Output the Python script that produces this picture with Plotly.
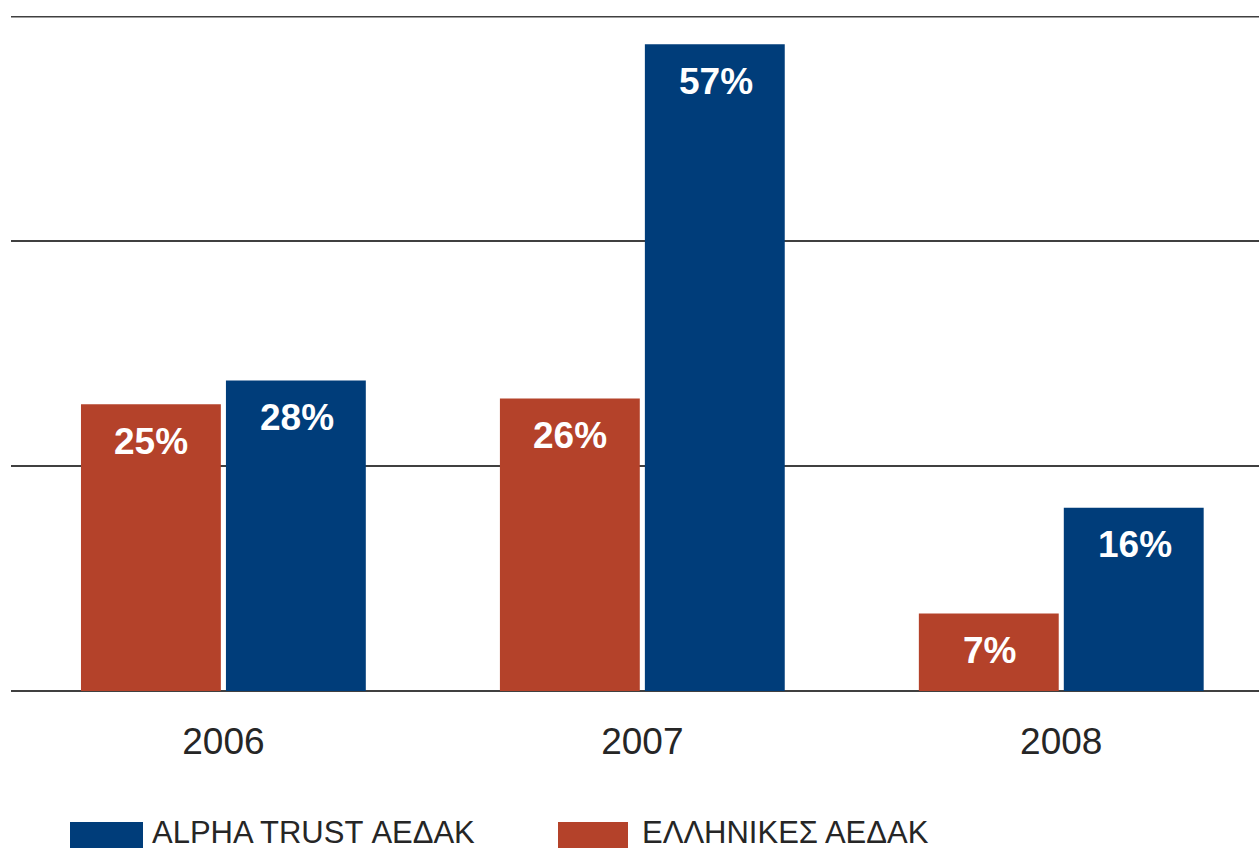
import plotly.graph_objects as go

years = ["2006", "2007", "2008"]
greek_funds = [25.5, 26.0, 6.9]          # ΕΛΛΗΝΙΚΕΣ ΑΕΔΑΚ
alpha_trust = [27.6, 57.5, 16.3]         # ALPHA TRUST ΑΕΔΑΚ
greek_labels = ["25%", "26%", "7%"]
alpha_labels = ["28%", "57%", "16%"]
y_ticks = [0, 20, 40, 60]

RED = "#B4422A"
BLUE = "#003D7A"
TXT = "#262626"
GRID = "#404040"

W, H = 1259, 850
L, R, T, B = 11, 0, 16, 159
pw, ph = W - L - R, H - T - B


def px_x(px):
    return (px - L) / pw


def px_y(py):
    return (H - B - py) / ph


fig = go.Figure()
fig.add_trace(go.Bar(x=years, y=greek_funds, name="ΕΛΛΗΝΙΚΕΣ ΑΕΔΑΚ",
                     marker=dict(color=RED, line=dict(width=0)), showlegend=False))
fig.add_trace(go.Bar(x=years, y=alpha_trust, name="ALPHA TRUST ΑΕΔΑΚ",
                     marker=dict(color=BLUE, line=dict(width=0)), showlegend=False))

label_font = dict(family="Liberation Sans, Arial", size=37, color="white", weight="bold")
annotations = []
for i, (v, lab) in enumerate(zip(greek_funds, greek_labels)):
    annotations.append(dict(x=i, y=v, xref="x", yref="y", text=lab, showarrow=False,
                            xshift=-72, yshift=-37, yanchor="middle", font=label_font))
for i, (v, lab) in enumerate(zip(alpha_trust, alpha_labels)):
    annotations.append(dict(x=i, y=v, xref="x", yref="y", text=lab, showarrow=False,
                            xshift=74, yshift=-37, yanchor="middle", font=label_font))

# legend (custom, large swatches)
legend_items = [("ALPHA TRUST ΑΕΔΑΚ", BLUE, 70, 143, 150), ("ΕΛΛΗΝΙΚΕΣ ΑΕΔΑΚ", RED, 558, 628, 640)]
shapes = [dict(type="line", xref="paper", yref="y", x0=0, x1=1, y0=y_ticks[-1], y1=y_ticks[-1],
               line=dict(color=GRID, width=3))]
for name, col, x0, x1, tx in legend_items:
    shapes.append(dict(type="rect", xref="paper", yref="paper", x0=px_x(x0), x1=px_x(x1),
                       y0=px_y(848), y1=px_y(822), fillcolor=col, line=dict(width=0)))
    annotations.append(dict(xref="paper", yref="paper", x=px_x(tx), y=px_y(832), text=name,
                            showarrow=False, xanchor="left", yanchor="middle",
                            font=dict(family="Liberation Sans, Arial", size=31, color=TXT)))

fig.update_layout(
    width=W, height=H,
    margin=dict(l=L, r=R, t=T, b=B, pad=0),
    paper_bgcolor="white", plot_bgcolor="white",
    barmode="group", bargap=0.308, bargroupgap=0.035,
    showlegend=False,
    annotations=annotations,
    shapes=shapes,
    xaxis=dict(type="category", range=[-0.507, 2.472], showgrid=False, showline=False,
               ticks="", ticklabelstandoff=25,
               tickfont=dict(family="Liberation Sans, Arial", size=37, color=TXT)),
    yaxis=dict(range=[0, 60], tickvals=y_ticks, showticklabels=False, showgrid=True,
               gridcolor=GRID, gridwidth=2, zeroline=True, zerolinecolor=GRID, zerolinewidth=2,
               showline=False),
)

fig.write_html("out.html", config={"displayModeBar": False},
               post_script="document.body.style.margin='0';")
